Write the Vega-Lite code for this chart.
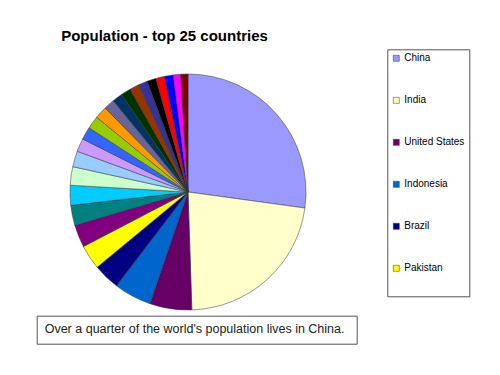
{
  "$schema": "https://vega.github.io/schema/vega-lite/v6.json",
  "width": 236,
  "height": 236,
  "autosize": {"type": "none"},
  "padding": {"left": 70, "top": 74, "right": 194, "bottom": 65},
  "background": "white",
  "title": {
    "text": "Population - top 25 countries",
    "font": "Liberation Sans",
    "fontSize": 15,
    "fontWeight": "bold",
    "color": "#000000",
    "anchor": "middle",
    "frame": "group",
    "dx": -23.5,
    "offset": 5
  },
  "data": {
    "values": [
      {"rank": 1, "country": "China", "population": 1320},
      {"rank": 2, "country": "India", "population": 1084},
      {"rank": 3, "country": "United States", "population": 279},
      {"rank": 4, "country": "Indonesia", "population": 250},
      {"rank": 5, "country": "Brazil", "population": 176},
      {"rank": 6, "country": "Pakistan", "population": 163},
      {"rank": 7, "country": "Bangladesh", "population": 150},
      {"rank": 8, "country": "Russia", "population": 134},
      {"rank": 9, "country": "Nigeria", "population": 132},
      {"rank": 10, "country": "Japan", "population": 123},
      {"rank": 11, "country": "Mexico", "population": 105},
      {"rank": 12, "country": "Philippines", "population": 88},
      {"rank": 13, "country": "Vietnam", "population": 85},
      {"rank": 14, "country": "Germany", "population": 85},
      {"rank": 15, "country": "Egypt", "population": 82},
      {"rank": 16, "country": "Ethiopia", "population": 72},
      {"rank": 17, "country": "Turkey", "population": 68},
      {"rank": 18, "country": "Iran", "population": 66},
      {"rank": 19, "country": "Thailand", "population": 63},
      {"rank": 20, "country": "DR Congo", "population": 60},
      {"rank": 21, "country": "France", "population": 60},
      {"rank": 22, "country": "United Kingdom", "population": 58},
      {"rank": 23, "country": "Italy", "population": 58},
      {"rank": 24, "country": "South Korea", "population": 49},
      {"rank": 25, "country": "Myanmar", "population": 48}
    ]
  },
  "mark": {"type": "arc", "outerRadius": 118, "stroke": "#333333", "strokeWidth": 0.5},
  "encoding": {
    "theta": {"field": "population", "type": "quantitative", "stack": true},
    "order": {"field": "rank", "type": "quantitative"},
    "color": {
      "field": "country",
      "type": "nominal",
      "scale": {
        "domain": ["China", "India", "United States", "Indonesia", "Brazil", "Pakistan", "Bangladesh", "Russia", "Nigeria", "Japan", "Mexico", "Philippines", "Vietnam", "Germany", "Egypt", "Ethiopia", "Turkey", "Iran", "Thailand", "DR Congo", "France", "United Kingdom", "Italy", "South Korea", "Myanmar"],
        "range": ["#9999FF", "#FFFFCC", "#660066", "#0066CC", "#000080", "#FFFF00", "#800080", "#008080", "#00CCFF", "#CCFFCC", "#99CCFF", "#CC99FF", "#3366FF", "#99CC00", "#FF9900", "#666699", "#003366", "#003300", "#993300", "#333399", "#000000", "#FF0000", "#0000FF", "#FF00FF", "#800000"]
      },
      "legend": {
        "values": ["China", "India", "United States", "Indonesia", "Brazil", "Pakistan"],
        "orient": "none",
        "legendX": 317.3,
        "legendY": -24.7,
        "symbolType": "square",
        "symbolSize": 36,
        "symbolStrokeColor": "#333333",
        "symbolStrokeWidth": 0.5,
        "labelFont": "Liberation Sans",
        "labelFontSize": 10,
        "labelColor": "#000000",
        "labelOffset": 3,
        "rowPadding": 32,
        "padding": 4,
        "strokeColor": "#555555",
        "fillColor": "#ffffff",
        "title": " ",
        "titleOrient": "bottom",
        "titleFontSize": 10,
        "titlePadding": 9
      }
    },
    "opacity": {
      "field": "rank",
      "type": "quantitative",
      "scale": {"domain": [1, 25], "range": [1, 1]},
      "legend": {
        "values": [1],
        "labelExpr": "''",
        "symbolSize": 0,
        "symbolOpacity": 0,
        "symbolStrokeWidth": 0,
        "labelOffset": 0,
        "title": "Over a quarter of the world's population lives in China.",
        "titleOrient": "left",
        "titlePadding": -6,
        "titleFont": "Liberation Sans",
        "titleFontSize": 12.5,
        "titleFontWeight": "normal",
        "titleColor": "#222222",
        "titleLimit": 400,
        "padding": 8,
        "strokeColor": "#555555",
        "fillColor": "#ffffff",
        "orient": "none",
        "legendX": -33.3,
        "legendY": 241.7
      }
    }
  },
  "config": {"view": {"stroke": null}}
}
